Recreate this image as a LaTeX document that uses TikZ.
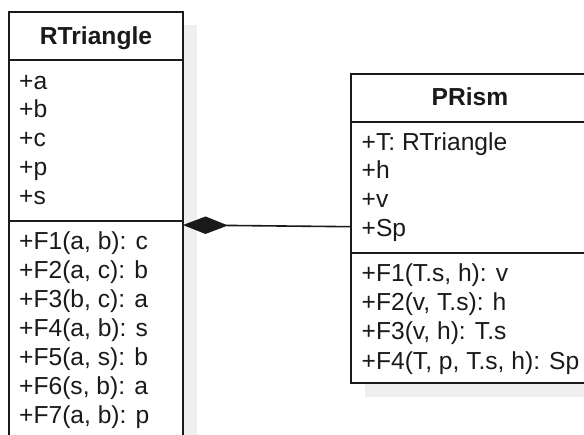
\documentclass[tikz,border=0pt]{standalone}
\usepackage{fontspec}
\setmainfont{Liberation Sans}
\usetikzlibrary{arrows.meta}
\definecolor{umlline}{HTML}{1A1A1A}
\definecolor{shadowgray}{HTML}{EFEFEF}
\tikzset{
  umlsection/.style={rectangle, draw=umlline, line width=1.6pt, fill=white,
    inner sep=0pt, outer sep=0pt, anchor=north west},
  shadowbox/.style={fill=shadowgray, draw=none},
  member/.style={anchor=base west, inner sep=0pt, text=umlline,
    font=\fontsize{24.6}{29}\selectfont},
  classname/.style={anchor=base, inner sep=0pt, text=umlline,
    font=\fontsize{24.6}{29}\selectfont\bfseries},
  composition/.style={draw=umlline, line width=1.6pt,
    {Diamond[length=45pt,width=17.5pt]}-}
}
\begin{document}
\begin{tikzpicture}[x=1pt,y=-1pt]
  \clip (0,0) rectangle (584,434);

  % drop shadows behind the two classes
  \fill[shadowbox] (23,25) rectangle (197,460);
  \fill[shadowbox] (365,87) rectangle (603,397);

  % class RTriangle
  \node[umlsection, minimum width=174pt, minimum height=48pt]  (rtHead) at (9,12)  {};
  \node[umlsection, minimum width=174pt, minimum height=161pt] (rtAttr) at (9,60)  {};
  \node[umlsection, minimum width=174pt, minimum height=234pt] (rtOps)  at (9,221) {};
  \node[classname] (rtName) at (96,44) {RTriangle};
  \foreach \txt [count=\i from 0] in {+a,+b,+c,+p,+s}
    \node[member] (rtA\i) at (19,{89+28.8*\i}) {\txt};
  \foreach \txt [count=\i from 0] in {{+F1(a, b): c},{+F2(a, c): b},{+F3(b, c): a},
      {+F4(a, b): s},{+F5(a, s): b},{+F6(s, b): a},{+F7(a, b): p}}
    \node[member] (rtF\i) at (19,{249.3+29*\i}) {\txt};

  % class PRism
  \node[umlsection, minimum width=238pt, minimum height=48pt]  (prHead) at (351,74)  {};
  \node[umlsection, minimum width=238pt, minimum height=131pt] (prAttr) at (351,122) {};
  \node[umlsection, minimum width=238pt, minimum height=130pt] (prOps)  at (351,253) {};
  \node[classname] (prName) at (470,105) {PRism};
  \foreach \txt [count=\i from 0] in {{+T: RTriangle},+h,+v,+Sp}
    \node[member] (prA\i) at (361.5,{150+28.9*\i}) {\txt};
  \foreach \txt [count=\i from 0] in {{+F1(T.s, h): v},{+F2(v, T.s): h},
      {+F3(v, h): T.s},{+F4(T, p, T.s, h): Sp}}
    \node[member] (prF\i) at (361.5,{281.7+29.1*\i}) {\txt};

  % composition: PRism owns an RTriangle
  \coordinate (levelL) at (0,225);
  \coordinate (levelR) at (0,226.7);
  \draw[composition] (rtOps.east |- levelL) -- (prAttr.west |- levelR);
\end{tikzpicture}
\end{document}
